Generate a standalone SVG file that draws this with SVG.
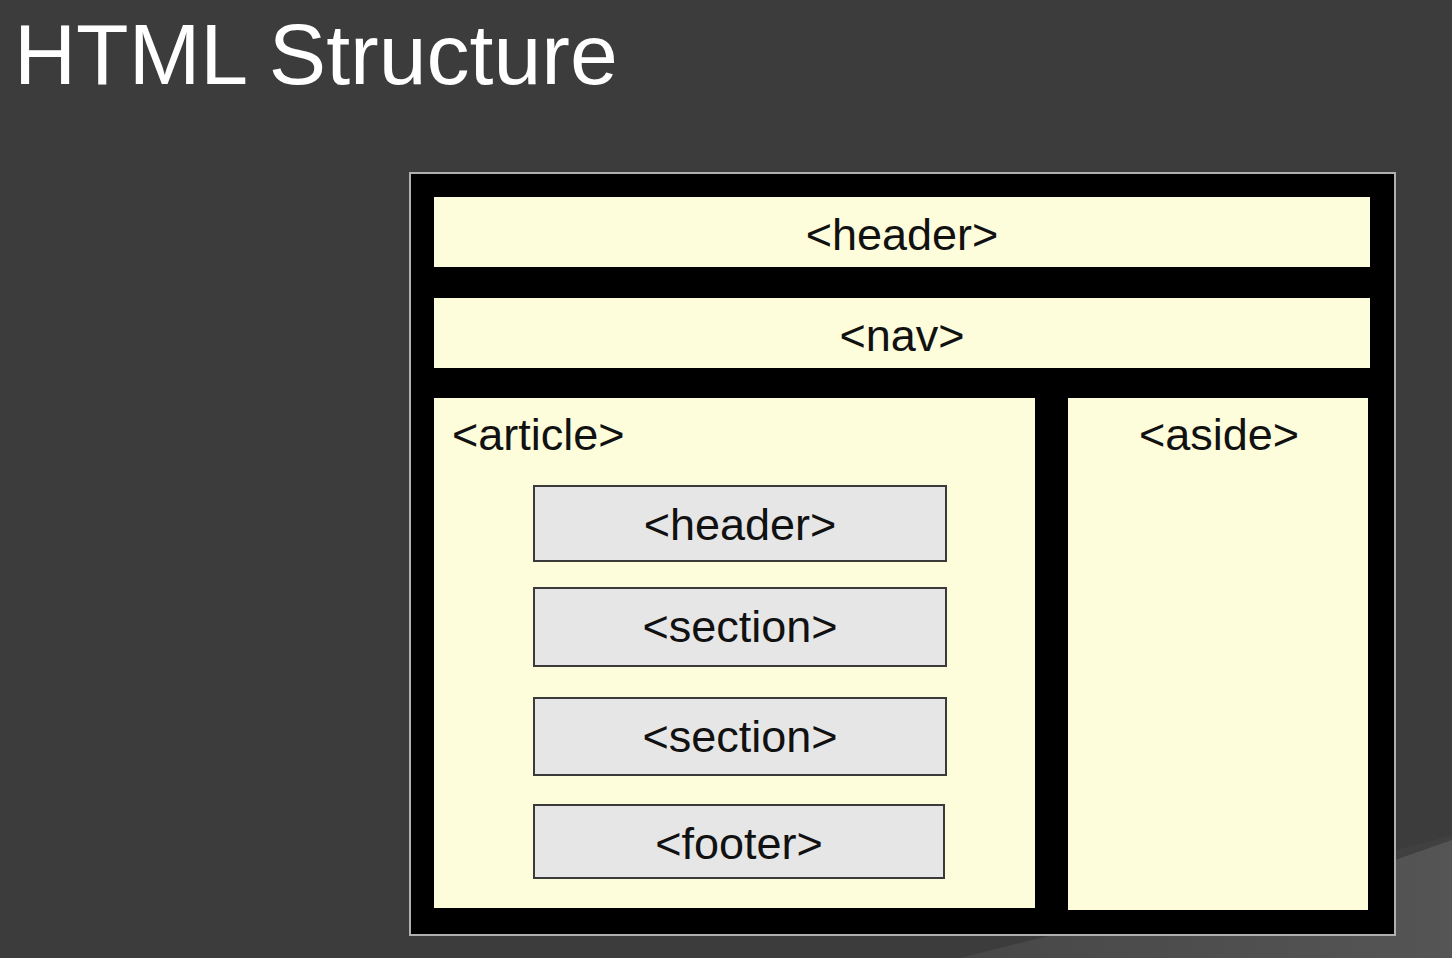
<svg xmlns="http://www.w3.org/2000/svg" width="1452" height="958" viewBox="0 0 1452 958">
<style>
.lbl{font-family:"Liberation Sans",Arial,sans-serif;font-size:45px;fill:#111;}
.mid{text-anchor:middle;}
.band{fill:#fdfddc;}
.inner{fill:#e6e6e6;stroke:#3a3a3a;stroke-width:2;}
</style>
<defs>
<linearGradient id="wedge" x1="0" y1="0" x2="1" y2="0">
<stop offset="0" stop-color="#474747"/>
<stop offset="1" stop-color="#555555"/>
</linearGradient>
</defs>
<rect width="1452" height="958" fill="#3c3c3c"/>
<polygon points="960,958 1452,836 1452,958" fill="url(#wedge)"/>
<polygon points="1395,860 1452,840 1452,836 1395,850" fill="#333" opacity="0.6"/>
<text x="14" y="84" font-family="'Liberation Sans',Arial,sans-serif" font-size="86" fill="#ffffff">HTML Structure</text>
<g id="frame">
<rect x="410" y="173" width="985" height="762" fill="#000" stroke="#b0b0b0" stroke-width="2"/>
</g>
<g id="header">
<rect class="band" x="434" y="197" width="936" height="70"/>
<text class="lbl mid" x="902" y="250">&lt;header&gt;</text>
</g>
<g id="nav">
<rect class="band" x="434" y="298" width="936" height="70"/>
<text class="lbl mid" x="902" y="351">&lt;nav&gt;</text>
</g>
<g id="article">
<rect class="band" x="434" y="398" width="601" height="510"/>
<text class="lbl" x="452" y="450">&lt;article&gt;</text>
</g>
<g id="aside">
<rect class="band" x="1068" y="398" width="300" height="512"/>
<text class="lbl mid" x="1219" y="450">&lt;aside&gt;</text>
</g>
<g id="article-header">
<rect class="inner" x="534" y="486" width="412" height="75"/>
<text class="lbl mid" x="740" y="540">&lt;header&gt;</text>
</g>
<g id="section1">
<rect class="inner" x="534" y="588" width="412" height="78"/>
<text class="lbl mid" x="740" y="642">&lt;section&gt;</text>
</g>
<g id="section2">
<rect class="inner" x="534" y="698" width="412" height="77"/>
<text class="lbl mid" x="740" y="752">&lt;section&gt;</text>
</g>
<g id="footer">
<rect class="inner" x="534" y="805" width="410" height="73"/>
<text class="lbl mid" x="739" y="859">&lt;footer&gt;</text>
</g>
<g id="connectors"></g>
</svg>
